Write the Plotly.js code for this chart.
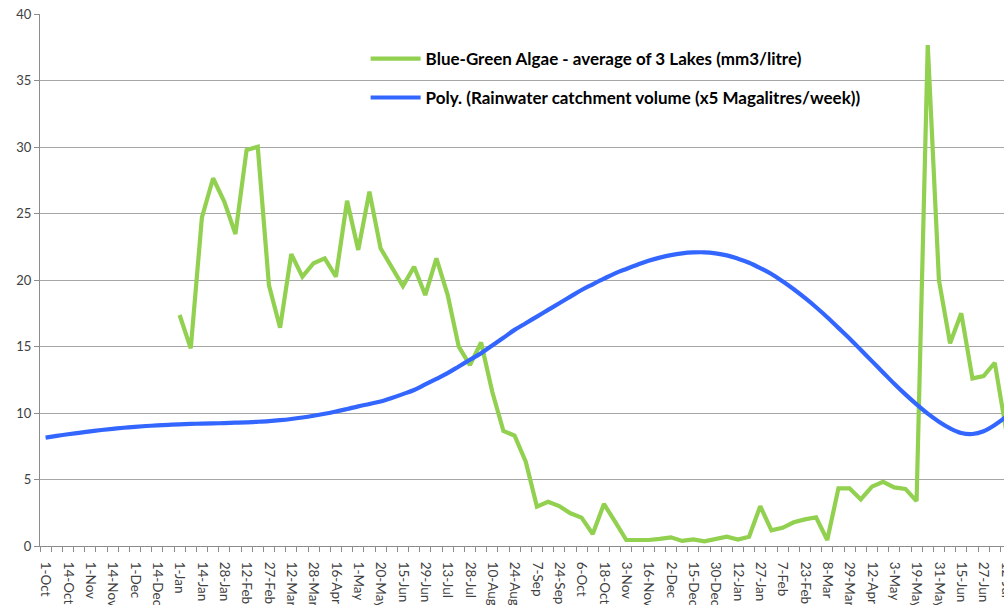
<!DOCTYPE html>
<html>
<head>
<meta charset="utf-8">
<script src="https://cdn.plot.ly/plotly-3.0.1.min.js"></script>
<style>
html,body{margin:0;padding:0;overflow:hidden;background:#fff;}
#chart{width:1045px;height:605px;}
</style>
</head>
<body>
<div id="chart"></div>
<script>
// Tick labels shown on every second category (categories 0,2,4,...)
var tickLabels = ["1-Oct","14-Oct","1-Nov","14-Nov","1-Dec","14-Dec","1-Jan","14-Jan","28-Jan","12-Feb",
  "27-Feb","12-Mar","28-Mar","16-Apr","1-May","20-May","15-Jun","29-Jun","13-Jul","28-Jul",
  "10-Aug","24-Aug","7-Sep","24-Sep","6-Oct","18-Oct","3-Nov","16-Nov","2-Dec","15-Dec",
  "30-Dec","12-Jan","27-Jan","7-Feb","23-Feb","8-Mar","29-Mar","12-Apr","3-May","19-May",
  "31-May","15-Jun","27-Jun","12-Jul"];

// Blue-Green Algae - average of 3 Lakes (one value per weekly category, null = no data)
var algae = [null,null,null,null,null,null,null,null,null,null,null,null,
  17.37,14.86,24.71,27.65,25.89,23.46,29.77,30.02,19.62,16.41,
  21.95,20.25,21.26,21.63,20.25,25.96,22.26,26.64,22.38,20.9,
  19.55,21.0,18.87,21.63,18.9,14.99,13.6,15.3,11.6,8.65,
  8.3,6.34,2.96,3.33,3.0,2.46,2.13,0.9,3.16,1.83,
  0.45,0.45,0.45,0.53,0.65,0.38,0.5,0.35,0.53,0.7,
  0.48,0.7,3.0,1.18,1.37,1.78,2.0,2.16,0.45,4.34,
  4.34,3.5,4.46,4.83,4.41,4.29,3.38,37.67,20.0,15.24,
  17.5,12.6,12.78,13.78,8.8];

// Poly. trendline (Rainwater catchment volume x5 Megalitres/week)
var rain = [8.15,8.28,8.4,8.51,8.62,8.72,8.81,8.89,8.96,9.02,
  9.07,9.11,9.15,9.18,9.2,9.22,9.24,9.27,9.3,9.34,
  9.39,9.46,9.55,9.66,9.79,9.94,10.11,10.3,10.5,10.68,
  10.87,11.13,11.42,11.73,12.15,12.57,13.0,13.5,14.0,14.5,
  15.08,15.66,16.25,16.75,17.25,17.75,18.25,18.75,19.25,19.68,
  20.1,20.5,20.83,21.15,21.45,21.68,21.87,22.0,22.07,22.08,
  22.0,21.85,21.6,21.3,20.9,20.45,19.9,19.3,18.65,17.95,
  17.2,16.4,15.6,14.75,13.9,13.05,12.2,11.4,10.65,9.95,
  9.35,8.85,8.5,8.42,8.63,9.1,9.7,10.4,11.2,12.1];

var nCat = rain.length;
var idx = rain.map(function(_, i){ return i; });
var tickVals = tickLabels.map(function(_, k){ return 2*k; });
var boundaries = [];
for (var b = 0; b <= nCat; b++) boundaries.push(b - 0.5);

var traces = [
  {x: idx, y: algae, type: 'scatter', mode: 'lines', connectgaps: false,
   name: 'Blue-Green Algae - average of 3 Lakes (mm3/litre)',
   line: {color: '#92D050', width: 4.2}, legend: 'legend'},
  {x: idx, y: rain, type: 'scatter', mode: 'lines', line: {color: '#3366FF', width: 4.2, shape: 'spline'},
   name: 'Poly. (Rainwater catchment volume (x5 Magalitres/week))', legend: 'legend2'}
];

var legFont = {family: 'Lato, "Open Sans", sans-serif', size: 17, color: '#000000', weight: 'bold'};

var layout = {
  width: 1045, height: 605,
  margin: {l: 40, r: 0, t: 14, b: 59},
  paper_bgcolor: '#ffffff', plot_bgcolor: '#ffffff',
  font: {family: 'Lato, "Open Sans", sans-serif', size: 13, color: '#404040'},
  xaxis: {
    range: [-0.5, nCat - 0.5],
    tickmode: 'array', tickvals: tickVals, ticktext: tickLabels,
    tickangle: 90, ticks: 'outside', ticklen: 12, tickcolor: 'rgba(0,0,0,0)',
    showgrid: false, zeroline: false,
    showline: true, linecolor: '#8c8c8c', linewidth: 1,
    tickfont: {size: 13.5, color: '#404040'},
    minor: {tickmode: 'array', tickvals: boundaries, ticks: 'outside', ticklen: 5, tickcolor: '#8c8c8c', tickwidth: 1, showgrid: false}
  },
  yaxis: {
    range: [0, 40], dtick: 5, tick0: 0,
    ticks: 'outside', ticklen: 5, tickcolor: '#8c8c8c',
    showgrid: true, gridcolor: '#a6a6a6', gridwidth: 1,
    zeroline: false, showline: true, linecolor: '#8c8c8c', linewidth: 1,
    tickfont: {size: 13, color: '#404040'}
  },
  showlegend: true,
  legend: {x: 0.324, y: 0.949, xanchor: 'left', yanchor: 'top', bgcolor: 'rgba(0,0,0,0)',
           font: legFont, itemwidth: 50},
  legend2: {x: 0.324, y: 0.876, xanchor: 'left', yanchor: 'top', bgcolor: 'rgba(0,0,0,0)',
           font: legFont, itemwidth: 50}
};

Plotly.newPlot('chart', traces, layout, {displayModeBar: false, staticPlot: true});
</script>
</body>
</html>
